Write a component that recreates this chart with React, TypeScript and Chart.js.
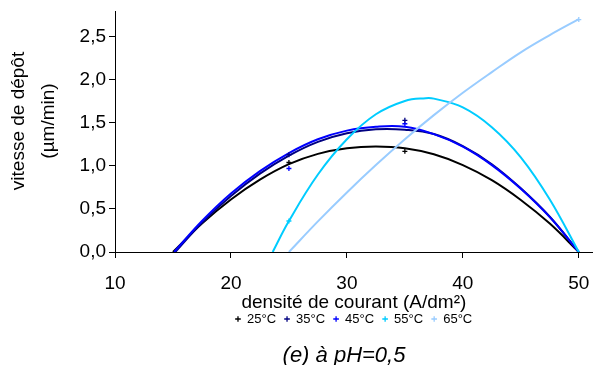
import React, { useEffect, useRef } from "react";
import { Chart, registerables } from "chart.js";

Chart.register(...registerables);

// Series
const seriesLabels = ["25°C", "35°C", "45°C", "55°C", "65°C"];
const seriesColors = ["#000000", "#000080", "#0000ff", "#00ccff", "#99ccff"];

// Fitted curves (x = current density, y = rate)
const curveX25 = [15, 17.5, 20, 22.5, 25, 27.5, 30, 32.5, 35, 37.5, 40, 42.5, 45, 47.5, 50];
const curveY25 = [0, 0.33, 0.61, 0.84, 1.02, 1.14, 1.205, 1.225, 1.205, 1.135, 1.01, 0.835, 0.605, 0.33, 0];

const curveX35 = [15.2, 17.5, 20, 22.5, 25, 27.5, 30, 32.5, 35, 37.5, 40, 42.5, 45, 47.5, 50];
const curveY35 = [0, 0.34, 0.65, 0.91, 1.12, 1.28, 1.38, 1.425, 1.42, 1.37, 1.23, 1.02, 0.74, 0.41, 0];

const curveX45 = [15.1, 17.5, 20, 22.5, 25, 27.5, 30, 32.5, 35, 37.5, 40, 42.5, 45, 47.5, 50];
const curveY45 = [0, 0.36, 0.68, 0.94, 1.15, 1.31, 1.41, 1.455, 1.455, 1.37, 1.225, 1.01, 0.735, 0.405, 0];

const curveX55 = [23.6, 25, 27.5, 30, 32.5, 35, 36.8, 37.5, 40, 42.5, 45, 47.5, 50];
const curveY55 = [0, 0.36, 0.9, 1.31, 1.6, 1.755, 1.787, 1.782, 1.68, 1.45, 1.1, 0.61, 0];

const curveX65 = [25, 27.5, 30, 32.5, 35, 37.5, 40, 42.5, 45, 47.5, 50];
const curveY65 = [0, 0.356, 0.692, 1.01, 1.31, 1.59, 1.85, 2.09, 2.32, 2.52, 2.705];

// Measured points (+ markers)
const markX25 = [25, 35];
const markY25 = [1.04, 1.17];
const markX35 = [25, 35];
const markY35 = [1.13, 1.53];
const markX45 = [25, 35];
const markY45 = [0.97, 1.49];
const markX55 = [25];
const markY55 = [0.36];
const markX65 = [50];
const markY65 = [2.7];

// Axes
const xTicks = [10, 20, 30, 40, 50];
const yTicks = [0, 0.5, 1, 1.5, 2, 2.5];
const xTitle = "densité de courant (A/dm²)";
const yTitle = ["vitesse de dépôt", "(µm/min)"];
const caption = "(e) à pH=0,5";

const FONT = '"Liberation Sans", Arial, sans-serif';

const zip = (xs: number[], ys: number[]) => xs.map((x, i) => ({ x, y: ys[i] }));

const curves = [
  [curveX25, curveY25],
  [curveX35, curveY35],
  [curveX45, curveY45],
  [curveX55, curveY55],
  [curveX65, curveY65],
];
const marks = [
  [markX25, markY25],
  [markX35, markY35],
  [markX45, markY45],
  [markX55, markY55],
  [markX65, markY65],
];

const textPlugin = {
  id: "extraText",
  afterDraw(chart: any) {
    const ctx = chart.ctx as CanvasRenderingContext2D;
    ctx.save();
    ctx.fillStyle = "#000";
    ctx.textAlign = "center";
    ctx.textBaseline = "middle";
    ctx.font = `19px ${FONT}`;
    ctx.save();
    ctx.translate(19, 121);
    ctx.rotate(-Math.PI / 2);
    ctx.fillText(yTitle[0], 0, 0);
    ctx.fillText(yTitle[1], 0, 30);
    ctx.restore();
    ctx.font = `italic 22px ${FONT}`;
    ctx.fillText(caption, 344, 356);
    ctx.restore();
  },
};

export default function App() {
  const ref = useRef<HTMLCanvasElement | null>(null);

  useEffect(() => {
    if (!ref.current) return;
    const markerSets = marks.map(([xs, ys], i) => ({
      type: "line" as const,
      label: seriesLabels[i],
      data: zip(xs, ys),
      showLine: false,
      pointStyle: "cross",
      pointRadius: 2.5,
      pointBorderWidth: 1.3,
      pointBorderColor: seriesColors[i],
      pointBackgroundColor: seriesColors[i],
      borderColor: seriesColors[i],
      backgroundColor: seriesColors[i],
      borderWidth: 1.3,
      order: 0,
    }));
    const curveSets = curves.map(([xs, ys], i) => ({
      type: "line" as const,
      label: "fit " + seriesLabels[i],
      data: zip(xs, ys),
      borderColor: seriesColors[i],
      backgroundColor: seriesColors[i],
      borderWidth: 2,
      pointRadius: 0,
      tension: 0.4,
      fill: false,
      order: 5 - i,
    }));

    const chart = new Chart(ref.current, {
      type: "line",
      data: { datasets: [...markerSets, ...curveSets] as any },
      plugins: [textPlugin],
      options: {
        animation: false,
        responsive: false,
        maintainAspectRatio: false,
        layout: { padding: { top: 11, left: 0, right: 0, bottom: 29.5 } },
        plugins: {
          tooltip: { enabled: false },
          title: { display: false },
          legend: {
            display: true,
            position: "bottom",
            fullSize: false,
            labels: {
              filter: (item: any) => item.datasetIndex < 5,
              usePointStyle: true,
              boxWidth: 5,
              boxHeight: 4,
              padding: 8.5,
              color: "#000",
              font: { family: FONT, size: 13 },
            },
          },
        },
        scales: {
          x: {
            type: "linear",
            min: 10,
            max: 51.2,
            afterBuildTicks: (s: any) => {
              s.ticks = xTicks.map((v) => ({ value: v }));
            },
            afterFit: (s: any) => {
              s.height = 52;
              s.paddingLeft = 0;
              s.paddingRight = 0;
            },
            grid: {
              drawOnChartArea: false,
              drawTicks: true,
              tickLength: 6,
              color: "#000",
            },
            border: { display: true, color: "#000", width: 1 },
            ticks: {
              color: "#000",
              padding: 14,
              maxRotation: 0,
              font: { family: FONT, size: 19 },
              callback: (v: any) => String(v),
            },
            title: {
              display: true,
              text: xTitle,
              color: "#000",
              font: { family: FONT, size: 19 },
              padding: { top: 0, bottom: -10.4 },
            },
          },
          y: {
            type: "linear",
            min: 0,
            max: 2.8,
            afterBuildTicks: (s: any) => {
              s.ticks = yTicks.map((v) => ({ value: v }));
            },
            afterFit: (s: any) => {
              s.width = 115;
              s.paddingTop = 0;
              s.paddingBottom = 0;
            },
            grid: {
              drawOnChartArea: false,
              drawTicks: true,
              tickLength: 6,
              color: "#000",
            },
            border: { display: true, color: "#000", width: 1 },
            ticks: {
              color: "#000",
              padding: 3,
              font: { family: FONT, size: 19 },
              callback: (v: any) => Number(v).toFixed(1).replace(".", ","),
            },
          },
        },
      },
    });
    return () => chart.destroy();
  }, []);

  return (
    <div style={{ position: "fixed", left: 0, top: 0, width: 598, height: 365, background: "#fff" }}>
      <canvas ref={ref} width={598} height={365} />
    </div>
  );
}
